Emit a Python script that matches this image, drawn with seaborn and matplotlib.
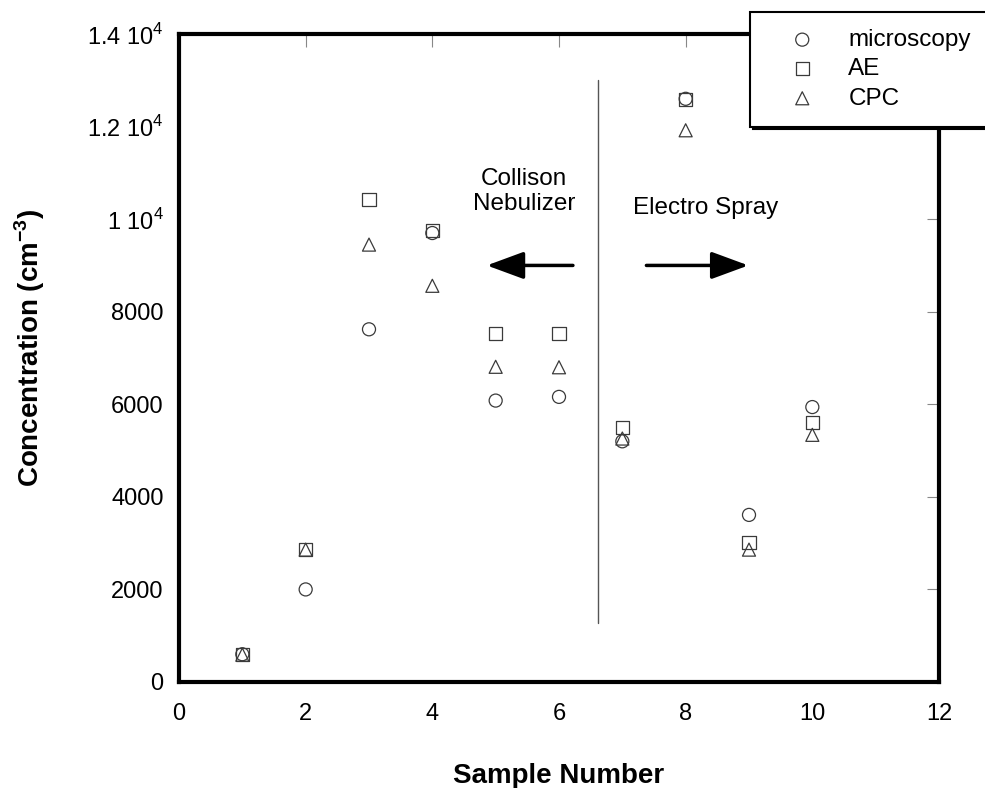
import numpy as np
import pandas as pd
import matplotlib
matplotlib.use('Agg')
import matplotlib.pyplot as plt
import seaborn as sns

# sample numbers and measured concentrations (cm^-3)
samples = [1, 2, 3, 4, 5, 6, 7, 8, 9, 10]
microscopy = [600, 2000, 7620, 9700, 6080, 6160, 5200, 12600, 3610, 5940]
ae = [600, 2870, 10420, 9750, 7530, 7530, 5490, 12590, 3020, 5610]
cpc = [590, 2860, 9450, 8560, 6810, 6800, 5260, 11920, 2860, 5340]

series_names = ['microscopy', 'AE', 'CPC']
series_markers = ['o', 's', '^']

ytick_vals = [0, 2000, 4000, 6000, 8000, 10000, 12000, 14000]
ytick_labels = ['0', '2000', '4000', '6000', '8000',
                r'1 10$^{4}$', r'1.2 10$^{4}$', r'1.4 10$^{4}$']
xtick_vals = [0, 2, 4, 6, 8, 10, 12]

df = pd.DataFrame({'Sample': samples, 'microscopy': microscopy, 'AE': ae, 'CPC': cpc})
long_df = df.melt(id_vars='Sample', var_name='Method', value_name='Conc')

sns.set_style('white')
plt.rcParams['font.family'] = ['Liberation Sans', 'DejaVu Sans']
plt.rcParams['mathtext.fontset'] = 'custom'
plt.rcParams['mathtext.rm'] = 'Liberation Sans'
plt.rcParams['mathtext.bf'] = 'Liberation Sans:bold'
plt.rcParams['text.color'] = 'black'
plt.rcParams['axes.labelcolor'] = 'black'

fig = plt.figure(figsize=(9.85, 7.88), dpi=100)
ax = fig.add_axes([179 / 985, 1 - 682 / 788, 760 / 985, 648 / 788])

edge = '#3a3a3a'
for name, mk in zip(series_names, series_markers):
    sub = long_df[long_df['Method'] == name]
    sns.scatterplot(x='Sample', y='Conc', data=sub, ax=ax, marker=mk, s=88,
                    facecolors='none', edgecolor=edge, linewidth=0.9,
                    label=name, zorder=3)

# divider between the two generation methods
ax.plot([6.62, 6.62], [1280, 13000], color='#555555', lw=1.0, zorder=2)

# arrows
arrow_style = '-|>,head_length=0.38,head_width=0.14'
ax.annotate('', xy=(4.86, 9000), xytext=(6.22, 9000),
            arrowprops=dict(arrowstyle=arrow_style, mutation_scale=60, lw=2.5,
                            color='black', shrinkA=0, shrinkB=0))
ax.annotate('', xy=(8.99, 9000), xytext=(7.38, 9000),
            arrowprops=dict(arrowstyle=arrow_style, mutation_scale=60, lw=2.5,
                            color='black', shrinkA=0, shrinkB=0))

ax.text(5.45, 10600, 'Collison\nNebulizer', ha='center', va='center',
        fontsize=17.5, linespacing=1.15, color='black')
ax.text(7.17, 10240, 'Electro Spray', ha='left', va='center', fontsize=17.5,
        color='black')

ax.set_xlim(0, 12)
ax.set_ylim(0, 14000)
ax.set_xticks(xtick_vals)
ax.set_yticks(ytick_vals)
ax.set_yticklabels(ytick_labels)

for sp in ax.spines.values():
    sp.set_linewidth(3)
    sp.set_color('black')

ax.tick_params(axis='both', which='major', direction='in', length=9, width=0.8,
               color='#888888', labelcolor='black', labelsize=17,
               top=True, right=True)
ax.tick_params(axis='x', pad=15)
ax.tick_params(axis='y', pad=11)

ax.set_xlabel('Sample Number', fontsize=20, fontweight='bold')
ax.set_ylabel(r'Concentration (cm$^{\mathbf{-3}}$)', fontsize=20, fontweight='bold')
ax.xaxis.set_label_coords(0.5, -0.125)
ax.yaxis.set_label_coords(-0.174, 0.515)

leg = ax.legend(loc='upper left', bbox_to_anchor=(750 / 985, 1 - 12 / 788),
                bbox_transform=fig.transFigure, borderaxespad=0,
                frameon=True, fancybox=False, framealpha=1,
                edgecolor='black', fontsize=17.5, handletextpad=0.45,
                labelspacing=0.3, borderpad=0.7, handlelength=2.9,
                shadow={'color': 'black', 'alpha': 1})
leg.get_frame().set_linewidth(1.5)
leg.set_zorder(10)
for t in leg.get_texts():
    t.set_color('black')

fig.savefig('out.png', dpi=100)
